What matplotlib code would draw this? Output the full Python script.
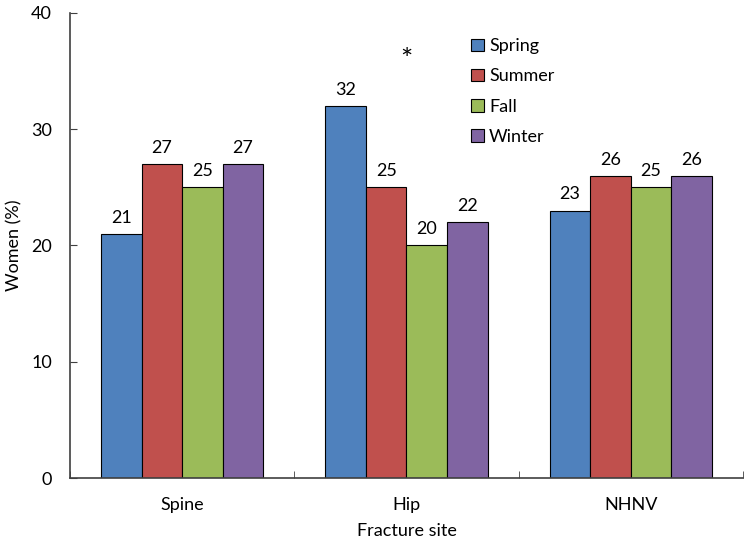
import numpy as np
import matplotlib.pyplot as plt

plt.rcParams['font.family'] = ['Lato', 'DejaVu Sans']

sites = ['Spine', 'Hip', 'NHNV']
seasons = ['Spring', 'Summer', 'Fall', 'Winter']
spring = [21, 32, 23]
summer = [27, 25, 26]
fall = [25, 20, 25]
winter = [27, 22, 26]
colors = ['#4F81BD', '#C0504D', '#9BBB59', '#8064A2']

fig = plt.figure(figsize=(7.51, 5.46), dpi=100)
ax = fig.add_axes([0.0932, 0.1245, 0.896, 0.852])

x = np.arange(len(sites))
w = 0.181
for i, (vals, name) in enumerate(zip([spring, summer, fall, winter], seasons)):
    pos = x + (i - 1.5) * w
    ax.bar(pos, vals, w, color=colors[i], edgecolor='black', linewidth=0.8, label=name)
    for p, v in zip(pos, vals):
        ax.text(p, v + 0.7, str(v), ha='center', va='bottom', fontsize=13)

# significance marker over hip
ax.text(x[1], 34.7, '*', ha='center', va='bottom', fontsize=21)

ax.set_xlim(-0.5, 2.5)
ax.set_ylim(0, 40)
ax.set_yticks([0, 10, 20, 30, 40])
ax.set_xticks(x)
ax.set_xticklabels(sites)
ax.set_xticks([-0.5, 0.5, 1.5, 2.5], minor=True)
ax.tick_params(axis='x', which='major', length=0, labelsize=13, pad=14)
ax.tick_params(axis='x', which='minor', direction='in', length=5, color='#404040')
ax.tick_params(axis='y', direction='in', length=5, labelsize=13, pad=13, color='#404040')
for s in ['top', 'right']:
    ax.spines[s].set_visible(False)
for s in ['left', 'bottom']:
    ax.spines[s].set_color('#404040')
    ax.spines[s].set_linewidth(1.2)

ax.set_xlabel('Fracture site', fontsize=13, labelpad=7)
ax.set_ylabel('Women (%)', fontsize=13)
ax.yaxis.set_label_coords(-0.071, 0.5)

ax.legend(loc='upper left', bbox_to_anchor=(0.572, 0.98), frameon=False, fontsize=13,
          handlelength=0.7, handleheight=0.7, handletextpad=0.3, labelspacing=0.78)

fig.savefig('out.png', dpi=100)
